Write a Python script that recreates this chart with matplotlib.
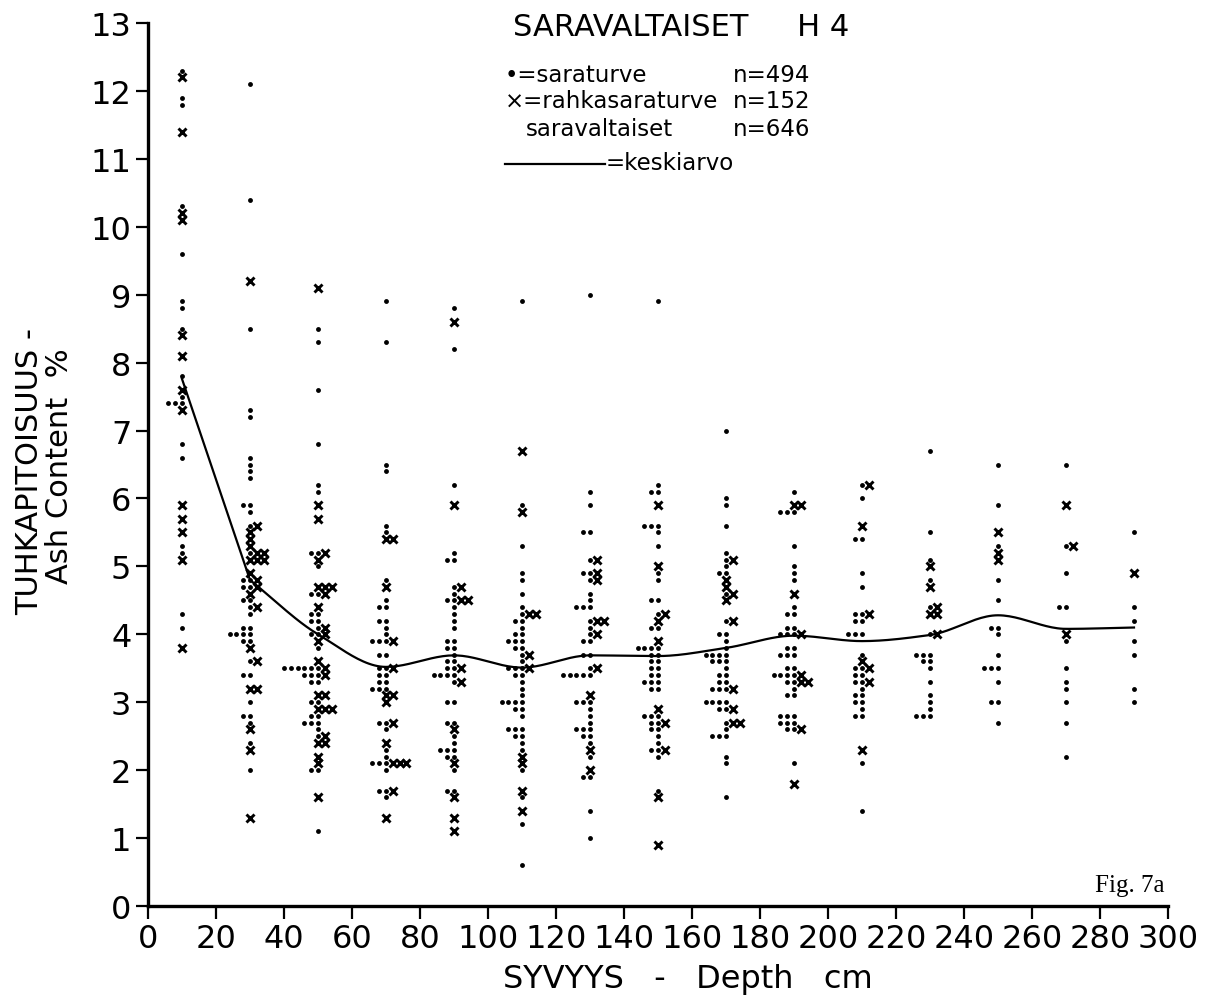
import numpy as np
import matplotlib
matplotlib.use("Agg")
import matplotlib.pyplot as plt
from matplotlib.lines import Line2D

# ---------------- data ----------------
depths = [10, 30, 50, 70, 90, 110, 130, 150, 170, 190, 210, 230, 250, 270, 290]

# sara turve (dots) per depth column
dots_10 = [12.3, 11.9, 11.8, 10.3, 9.6, 8.9, 8.8, 8.5, 7.8, 7.5, 7.4, 7.4, 7.4, 6.8, 6.6, 5.3, 5.2, 4.3, 4.1]
dots_30 = [12.1, 10.4, 8.5, 7.3, 7.2, 6.6, 6.5, 6.4, 6.3, 5.9, 5.9, 5.8, 5.6, 5.2, 4.8, 4.8, 4.7, 4.7, 4.5, 4.5,
           4.4, 4.3, 4.1, 4.1, 4.0, 4.0, 4.0, 4.0, 3.9, 3.9, 3.6, 3.4, 3.4, 3.0, 2.8, 2.8, 2.7, 2.4, 2.0]
dots_50 = [8.5, 8.3, 7.6, 6.8, 6.2, 6.1, 5.2, 5.2, 5.0, 4.6, 4.6, 4.3, 4.3, 4.2, 4.2, 4.1, 4.0, 4.0, 3.8,
           3.5, 3.5, 3.5, 3.5, 3.5, 3.5, 3.4, 3.4, 3.4, 3.3, 3.3, 3.0, 3.0, 2.8, 2.8, 2.7, 2.7, 2.7, 2.6, 2.5,
           2.0, 2.0, 1.1]
dots_70 = [8.9, 8.3, 6.5, 6.4, 5.6, 5.5, 4.8, 4.5, 4.4, 4.4, 4.2, 4.2, 4.1, 4.0, 3.9, 3.9, 3.9, 3.7, 3.7,
           3.5, 3.5, 3.4, 3.4, 3.3, 3.3, 3.2, 3.2, 3.2, 2.7, 2.7, 2.6, 2.3, 2.2, 2.1, 2.1, 2.1, 2.0, 1.7, 1.7, 1.6]
dots_90 = [8.8, 8.2, 6.2, 5.2, 5.1, 5.1, 4.7, 4.6, 4.5, 4.5, 4.4, 4.3, 4.2, 4.1, 3.9, 3.9, 3.8, 3.8, 3.7,
           3.6, 3.6, 3.5, 3.5, 3.4, 3.4, 3.4, 3.4, 3.3, 3.0, 3.0, 2.7, 2.7, 2.5, 2.4, 2.3, 2.3, 2.3, 2.2, 2.2,
           2.0, 1.7, 1.7]
dots_110 = [8.9, 5.9, 5.3, 4.9, 4.8, 4.6, 4.4, 4.3, 4.2, 4.2, 4.1, 4.0, 4.0, 3.9, 3.9, 3.9, 3.8, 3.8, 3.7,
            3.6, 3.5, 3.5, 3.5, 3.4, 3.4, 3.3, 3.2, 3.1, 3.0, 3.0, 3.0, 3.0, 2.9, 2.9, 2.8, 2.6, 2.6, 2.6,
            2.5, 2.5, 2.4, 2.3, 2.0, 1.6, 1.2, 0.6]
dots_130 = [9.0, 6.1, 5.9, 5.5, 5.5, 5.1, 4.9, 4.9, 4.8, 4.6, 4.5, 4.4, 4.4, 4.4, 4.2, 4.1, 4.0, 3.9, 3.9,
            3.7, 3.7, 3.5, 3.4, 3.4, 3.4, 3.4, 3.4, 3.0, 3.0, 3.0, 2.9, 2.8, 2.7, 2.6, 2.6, 2.6, 2.5, 2.5,
            2.4, 2.2, 1.9, 1.9, 1.4, 1.0]
dots_150 = [8.9, 6.2, 6.1, 6.1, 5.6, 5.6, 5.6, 5.5, 5.3, 4.9, 4.8, 4.5, 4.5, 4.3, 4.1, 4.1, 3.8, 3.8, 3.8,
            3.8, 3.7, 3.7, 3.6, 3.6, 3.5, 3.5, 3.4, 3.4, 3.3, 3.3, 3.3, 3.2, 3.2, 2.8, 2.8, 2.8, 2.7, 2.7,
            2.6, 2.6, 2.5, 2.4, 2.3, 2.3, 2.2, 1.7]
dots_170 = [7.0, 6.0, 5.9, 5.6, 5.2, 5.1, 5.0, 4.9, 4.9, 4.6, 4.2, 4.0, 4.0, 3.9, 3.8, 3.7, 3.7, 3.7, 3.7,
            3.6, 3.6, 3.6, 3.5, 3.4, 3.4, 3.3, 3.3, 3.2, 3.2, 3.2, 3.0, 3.0, 3.0, 3.0, 2.9, 2.9, 2.7, 2.6,
            2.5, 2.5, 2.5, 2.2, 2.1, 1.6]
dots_190 = [6.1, 5.8, 5.8, 5.8, 5.3, 5.0, 4.9, 4.8, 4.4, 4.3, 4.3, 4.1, 4.1, 4.0, 4.0, 4.0, 3.8, 3.8, 3.7,
            3.7, 3.7, 3.5, 3.5, 3.4, 3.4, 3.4, 3.4, 3.3, 3.3, 3.2, 3.1, 3.1, 2.8, 2.8, 2.8, 2.7, 2.7, 2.7,
            2.6, 2.6, 2.1]
dots_210 = [6.2, 6.0, 5.4, 5.4, 4.9, 4.7, 4.3, 4.3, 4.2, 4.2, 4.0, 4.0, 4.0, 3.7, 3.5, 3.5, 3.4, 3.4, 3.3,
            3.3, 3.2, 3.1, 3.1, 3.0, 3.0, 2.9, 2.8, 2.8, 2.1, 1.4]
dots_230 = [6.7, 5.5, 5.1, 4.8, 4.4, 4.0, 3.7, 3.7, 3.7, 3.6, 3.6, 3.5, 3.3, 3.1, 3.0, 2.9, 2.8, 2.8, 2.8]
dots_250 = [6.5, 5.9, 5.3, 4.8, 4.5, 4.1, 4.1, 4.0, 3.7, 3.5, 3.5, 3.5, 3.3, 3.0, 3.0, 2.7]
dots_270 = [6.5, 5.3, 4.9, 4.4, 4.4, 3.9, 3.5, 3.3, 3.2, 3.0, 2.7, 2.2]
dots_290 = [5.5, 4.4, 4.2, 3.9, 3.7, 3.2, 3.0]

# rahkasaraturve (crosses) per depth column
cross_10 = [12.2, 11.4, 10.2, 10.1, 8.4, 8.1, 7.6, 7.3, 5.9, 5.7, 5.5, 5.1, 3.8]
cross_30 = [9.2, 5.6, 5.5, 5.4, 5.3, 5.2, 5.2, 5.1, 5.1, 5.1, 4.9, 4.8, 4.7, 4.6, 4.4, 3.8, 3.6, 3.2, 3.2,
            2.6, 2.3, 1.3]
cross_50 = [9.1, 5.9, 5.7, 5.2, 5.1, 4.7, 4.7, 4.7, 4.6, 4.4, 4.1, 4.0, 3.9, 3.6, 3.5, 3.4, 3.1, 3.1, 2.9,
            2.9, 2.9, 2.5, 2.4, 2.4, 2.2, 2.1, 1.6]
cross_70 = [5.4, 5.4, 4.7, 3.9, 3.5, 3.1, 3.1, 3.0, 2.7, 2.4, 2.1, 2.1, 2.1, 1.7, 1.3]
cross_90 = [8.6, 5.9, 4.7, 4.5, 4.5, 3.5, 3.3, 2.6, 2.1, 1.6, 1.3, 1.1]
cross_110 = [6.7, 5.8, 4.3, 4.3, 3.7, 3.5, 2.2, 2.1, 1.7, 1.4]
cross_130 = [5.1, 4.9, 4.8, 4.2, 4.2, 4.0, 3.5, 3.1, 2.3, 2.0]
cross_150 = [5.9, 5.0, 4.3, 4.2, 3.9, 2.9, 2.7, 2.3, 1.6, 0.9]
cross_170 = [5.1, 4.8, 4.7, 4.6, 4.5, 4.2, 3.2, 2.9, 2.7, 2.7]
cross_190 = [5.9, 5.9, 4.6, 4.0, 3.4, 3.3, 3.3, 2.6, 1.8]
cross_210 = [6.2, 5.6, 4.3, 3.6, 3.5, 3.3, 2.3]
cross_230 = [5.0, 4.7, 4.4, 4.3, 4.3, 4.0]
cross_250 = [5.5, 5.2, 5.1]
cross_270 = [5.9, 5.3, 4.0]
cross_290 = [4.9]

dots_cols = [dots_10, dots_30, dots_50, dots_70, dots_90, dots_110, dots_130, dots_150,
             dots_170, dots_190, dots_210, dots_230, dots_250, dots_270, dots_290]
cross_cols = [cross_10, cross_30, cross_50, cross_70, cross_90, cross_110, cross_130, cross_150,
              cross_170, cross_190, cross_210, cross_230, cross_250, cross_270, cross_290]

# keskiarvo (mean line)
mean_values = [7.76, 4.80, 4.00, 3.52, 3.69, 3.51, 3.69, 3.68, 3.80, 3.98, 3.90, 3.99, 4.28, 4.08, 4.10]

x_ticks = list(range(0, 301, 20))
y_ticks = list(range(0, 14))

# ---------------- drawing ----------------
W, H = 1211, 1003
fig = plt.figure(figsize=(W / 100, H / 100), dpi=100)
fig.patch.set_facecolor("white")
ax = fig.add_axes([148 / W, (H - 907) / H, (1168 - 148) / W, (907 - 24) / H])
ax.set_xlim(0, 300)
ax.set_ylim(0, 13)

STEP = 2.0  # horizontal stacking offset (data units) for equal values

dx, dy, xx, xy = [], [], [], []
for d, dv, cv in zip(depths, dots_cols, cross_cols):
    keys = sorted(set([round(v, 1) for v in dv] + [round(v, 1) for v in cv]))
    for k in keys:
        nd = sum(1 for v in dv if round(v, 1) == k)
        nx = sum(1 for v in cv if round(v, 1) == k)
        for i in range(nd):
            dx.append(d - i * STEP)
            dy.append(k)
        start = 1 if nd > 0 else 0
        for j in range(nx):
            xx.append(d + (start + j) * STEP)
            xy.append(k)

ax.plot(dx, dy, linestyle="none", marker="o", markersize=3.5, color="black", markeredgewidth=0)
ax.plot(xx, xy, linestyle="none", marker="x", markersize=5.2, color="black", markeredgewidth=2.1)


def pchip_curve(xs, ys, n=24):
    """Monotone cubic (Fritsch-Carlson) rendering of the mean line."""
    xs = np.asarray(xs, float)
    ys = np.asarray(ys, float)
    h = np.diff(xs)
    delta = np.diff(ys) / h
    m = np.zeros_like(ys)
    for k in range(1, len(xs) - 1):
        if delta[k - 1] * delta[k] <= 0:
            m[k] = 0.0
        else:
            w1 = 2 * h[k] + h[k - 1]
            w2 = h[k] + 2 * h[k - 1]
            m[k] = (w1 + w2) / (w1 / delta[k - 1] + w2 / delta[k])
    m[0] = delta[0]
    m[-1] = delta[-1]
    outx, outy = [], []
    t = np.linspace(0, 1, n, endpoint=False)
    for k in range(len(xs) - 1):
        h00 = 2 * t**3 - 3 * t**2 + 1
        h10 = t**3 - 2 * t**2 + t
        h01 = -2 * t**3 + 3 * t**2
        h11 = t**3 - t**2
        outy.extend(h00 * ys[k] + h10 * h[k] * m[k] + h01 * ys[k + 1] + h11 * h[k] * m[k + 1])
        outx.extend(xs[k] + h[k] * t)
    outx.append(xs[-1])
    outy.append(ys[-1])
    return outx, outy


# steep first segment is straight in the original; smooth curve from 30 cm on
lx, ly = pchip_curve(depths[1:], mean_values[1:])
lx = [depths[0]] + list(lx)
ly = [mean_values[0]] + list(ly)
ax.plot(lx, ly, color="black", linewidth=1.6)

for s in ["top", "right"]:
    ax.spines[s].set_visible(False)
for s in ["left", "bottom"]:
    ax.spines[s].set_linewidth(2.4)
ax.set_xticks(x_ticks)
ax.set_yticks(y_ticks)
ax.tick_params(axis="both", direction="out", length=9, width=1.6, labelsize=23, pad=3)
for lab in ax.get_xticklabels() + ax.get_yticklabels():
    lab.set_fontfamily("DejaVu Sans")

# axis labels
lab_fam = ["Liberation Sans Narrow", "DejaVu Sans"]
fig.text(30 / W, 1 - 472 / H, "TUHKAPITOISUUS -", rotation=90, ha="center", va="center",
         fontsize=22, family=lab_fam)
fig.text(60 / W, 1 - 466 / H, "Ash Content  %", rotation=90, ha="center", va="center",
         fontsize=22, family=lab_fam)
fig.text(688 / W, 1 - 980 / H, "SYVYYS   -   Depth   cm", ha="center", va="center", fontsize=23,
         family="DejaVu Sans")

# title
fig.text(681 / W, 1 - 28 / H, "SARAVALTAISET     H 4", ha="center", va="center", fontsize=22,
         family="DejaVu Sans")

# legend block
lfam = ["Liberation Sans Narrow", "DejaVu Sans"]
fig.text(505 / W, 1 - 76 / H, "•=saraturve", ha="left", va="center", fontsize=16.5, family=lfam)
fig.text(505 / W, 1 - 102 / H, "×=rahkasaraturve", ha="left", va="center", fontsize=16.5, family=lfam)
fig.text(526 / W, 1 - 129 / H, "saravaltaiset", ha="left", va="center", fontsize=16.5, family=lfam)
fig.text(733 / W, 1 - 76 / H, "n=494", ha="left", va="center", fontsize=16.5, family=lfam)
fig.text(733 / W, 1 - 102 / H, "n=152", ha="left", va="center", fontsize=16.5, family=lfam)
fig.text(733 / W, 1 - 129 / H, "n=646", ha="left", va="center", fontsize=16.5, family=lfam)
fig.add_artist(Line2D([505 / W, 605 / W], [1 - 165 / H, 1 - 165 / H], color="black", linewidth=1.6))
fig.text(606 / W, 1 - 164 / H, "=keskiarvo", ha="left", va="center", fontsize=16.5, family=lfam)

fig.text(1130 / W, 1 - 886 / H, "Fig. 7a", ha="center", va="center", fontsize=18,
         family="Liberation Serif")

fig.savefig("out.png", dpi=100, facecolor="white")
